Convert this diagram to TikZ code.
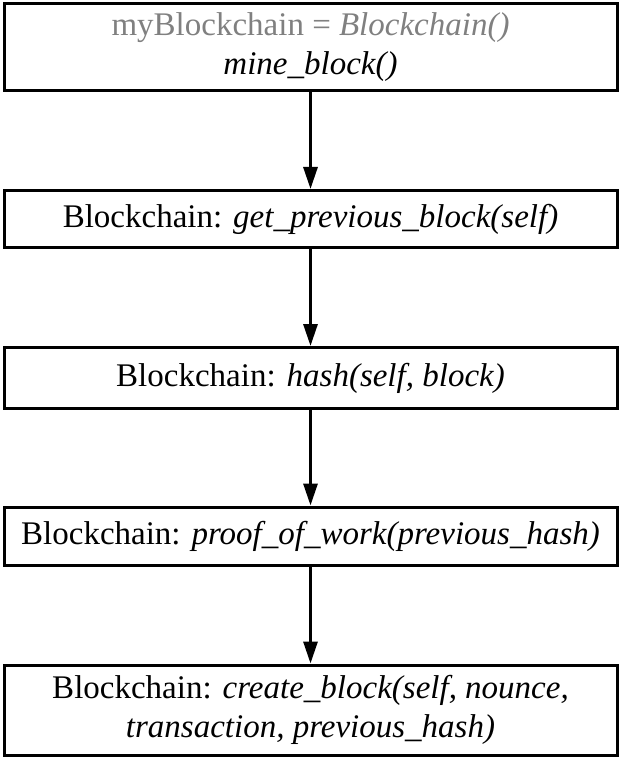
\documentclass[tikz,border=0pt]{standalone}
\usepackage{fontspec}
\setmainfont{Liberation Serif}
\usetikzlibrary{arrows.meta}
\begin{document}
\begin{tikzpicture}[x=1pt,y=1pt,
  stepbox/.style={draw=black, line width=3pt, minimum width=613pt, inner sep=0pt, align=center,
    font=\fontsize{33}{39}\selectfont},
  flow/.style={line width=3pt, -{Triangle[length=22pt,width=14pt]}}]
\useasboundingbox (0,0) rectangle (621,-759);
\node[stepbox, minimum height=87pt] (b1) at (310.5,-47) {\textcolor[gray]{0.5}{myBlockchain = \textit{Blockchain()}}\\ \textit{mine\_block()}};
\node[stepbox, minimum height=57pt] (b2) at (310.5,-219) {Blockchain: \textit{get\_previous\_block(self)}};
\node[stepbox, minimum height=61pt] (b3) at (310.5,-378) {Blockchain: \textit{hash(self, block)}};
\node[stepbox, minimum height=58pt] (b4) at (310.5,-536) {Blockchain: \textit{proof\_of\_work(previous\_hash)}};
\node[stepbox, minimum height=90pt] (b5) at (310.5,-710) {Blockchain: \textit{create\_block(self, nounce,}\\ \textit{transaction, previous\_hash)}};
\draw[flow] (b1) -- (b2);
\draw[flow] (b2) -- (b3);
\draw[flow] (b3) -- (b4);
\draw[flow] (b4) -- (b5);
\end{tikzpicture}
\end{document}
